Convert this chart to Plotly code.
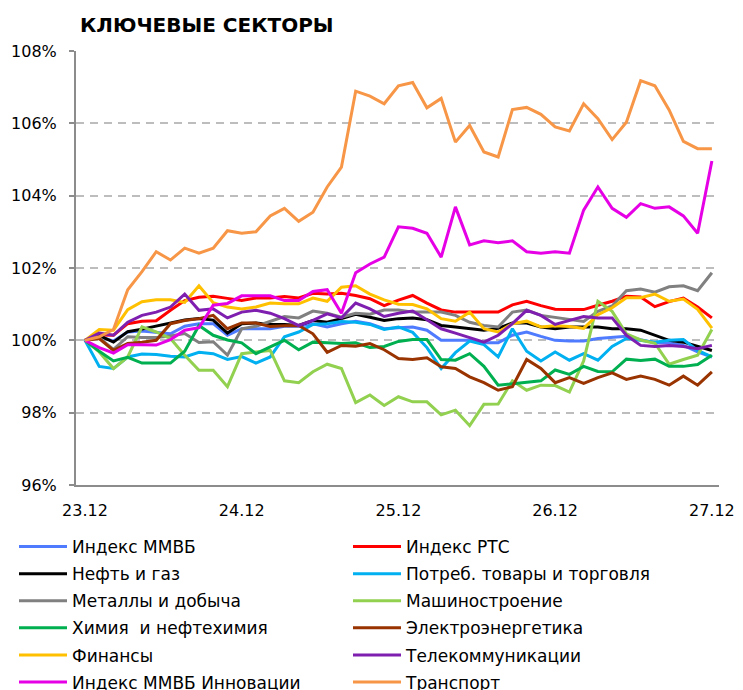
import plotly.graph_objects as go

# x positions: 45 observations, 11 per day
n_points = 45
tick_positions = [0, 11, 22, 33, 44]
tick_labels = ["23.12", "24.12", "25.12", "26.12", "27.12"]

names = [
    "Индекс ММВБ", "Индекс РТС", "Нефть и газ", "Потреб. товары и торговля",
    "Металлы и добыча", "Машиностроение", "Химия  и нефтехимия", "Электроэнергетика",
    "Финансы", "Телекоммуникации", "Индекс ММВБ Инновации", "Транспорт",
]
colors = [
    "#4F7BFF", "#FF0000", "#000000", "#00B0F0",
    "#808080", "#92D050", "#00B050", "#993300",
    "#FFC000", "#7F1FB0", "#E600E6", "#F79646",
]

# values: change vs 23.12, in percentage points (level = 100 + value)
mmvb = [0, 0.11, -0.02, 0.23, 0.26, 0.23, 0.18, 0.39, 0.46, 0.46, 0.14, 0.32, 0.32, 0.32, 0.39, 0.39, 0.46, 0.37, 0.46, 0.53, 0.46, 0.32, 0.35,
        0.37, 0.28, 0.0, 0.0, 0.0, -0.07, -0.07, 0.14, 0.23, 0.11, 0.0, -0.02, -0.02, 0.05, 0.09, 0.11, 0.02, -0.07, -0.07, -0.14, -0.32, -0.46]
rts = [0, 0.15, 0.14, 0.46, 0.53, 0.54, 0.83, 1.1, 1.19, 1.22, 1.16, 1.10, 1.17, 1.17, 1.21, 1.17, 1.30, 1.28, 1.30, 1.24, 1.15, 0.96, 1.11,
       1.24, 1.03, 0.84, 0.78, 0.78, 0.78, 0.78, 0.98, 1.08, 0.96, 0.86, 0.85, 0.85, 0.97, 1.08, 1.22, 1.2, 0.93, 1.07, 1.17, 0.92, 0.62]
neft = [0, 0.13, -0.05, 0.24, 0.31, 0.39, 0.47, 0.56, 0.6, 0.56, 0.2, 0.46, 0.48, 0.44, 0.44, 0.41, 0.55, 0.5, 0.6, 0.72, 0.64, 0.55, 0.6,
        0.62, 0.57, 0.41, 0.37, 0.32, 0.28, 0.33, 0.48, 0.48, 0.37, 0.32, 0.37, 0.37, 0.37, 0.32, 0.32, 0.28, 0.14, 0.0, -0.05, -0.17, -0.28]
potreb = [0, -0.72, -0.78, -0.46, -0.38, -0.39, -0.44, -0.46, -0.33, -0.37, -0.53, -0.45, -0.63, -0.46, 0.1, 0.23, 0.44, 0.46, 0.52, 0.5, 0.44, 0.3, 0.37,
          0.22, -0.2, -0.78, -0.34, -0.02, -0.12, -0.46, 0.32, -0.3, -0.57, -0.32, -0.55, -0.37, -0.55, -0.17, 0.05, 0.0, -0.05, 0.0, 0.02, -0.28, -0.46]
metally = [0, 0.07, -0.25, 0.1, 0.08, 0.08, 0.12, 0.19, -0.06, -0.04, -0.41, 0.32, 0.39, 0.53, 0.66, 0.62, 0.81, 0.75, 0.64, 0.75, 0.72, 0.84, 0.84,
           0.78, 0.78, 0.78, 0.69, 0.5, 0.41, 0.37, 0.78, 0.84, 0.69, 0.64, 0.58, 0.52, 0.8, 0.95, 1.37, 1.42, 1.33, 1.48, 1.51, 1.37, 1.87]
mash = [0, -0.32, -0.78, -0.46, 0.37, 0.23, 0.05, -0.41, -0.83, -0.83, -1.28, -0.37, -0.32, -0.28, -1.12, -1.17, -0.87, -0.66, -0.78, -1.72, -1.51, -1.8, -1.56,
        -1.7, -1.7, -2.06, -1.93, -2.36, -1.77, -1.76, -1.12, -1.38, -1.24, -1.25, -1.43, -0.57, 1.08, 0.8, 0.18, 0.01, -0.08, -0.66, -0.53, -0.41, 0.3]
himiya = [0, -0.3, -0.57, -0.47, -0.63, -0.63, -0.63, -0.3, 0.41, 0.14, 0.01, -0.07, -0.37, -0.18, 0.0, -0.26, -0.05, -0.07, -0.09, -0.07, -0.2, -0.17, -0.03,
          0.02, 0.02, -0.53, -0.55, -0.37, -0.72, -1.24, -1.2, -1.17, -1.12, -0.82, -0.94, -0.72, -0.86, -0.87, -0.52, -0.56, -0.52, -0.72, -0.72, -0.67, -0.41]
elektro = [0, 0.05, -0.28, -0.09, -0.05, 0.0, 0.46, 0.55, 0.6, 0.69, 0.32, 0.48, 0.48, 0.38, 0.4, 0.41, 0.18, -0.33, -0.14, -0.16, -0.09, -0.26, -0.5,
           -0.53, -0.48, -0.73, -0.78, -1.01, -1.17, -1.38, -1.28, -0.53, -0.78, -1.17, -1.03, -1.19, -1.03, -0.9, -1.08, -0.99, -1.08, -1.24, -0.99, -1.24, -0.87]
finansy = [0, 0.3, 0.28, 0.85, 1.07, 1.12, 1.12, 1.05, 1.51, 1.04, 0.92, 0.87, 0.92, 1.03, 1.01, 1.01, 1.17, 1.08, 1.47, 1.51, 1.28, 1.12, 1.0,
           0.99, 0.87, 0.6, 0.53, 0.78, 0.32, 0.23, 0.46, 0.53, 0.37, 0.4, 0.38, 0.33, 0.71, 0.9, 1.18, 1.18, 1.28, 1.08, 1.14, 0.86, 0.34]
telekom = [0, 0.2, 0.14, 0.5, 0.69, 0.78, 0.92, 1.28, 0.83, 0.87, 0.62, 0.78, 0.83, 0.75, 0.6, 0.41, 0.55, 0.73, 0.62, 1.03, 0.87, 0.66, 0.75,
           0.81, 0.57, 0.32, 0.2, 0.07, -0.05, 0.14, 0.46, 0.83, 0.69, 0.44, 0.55, 0.66, 0.62, 0.62, 0.14, -0.14, -0.17, -0.14, -0.17, -0.23, -0.14]
innov = [0, -0.2, -0.35, -0.12, -0.12, -0.13, 0.02, 0.28, 0.35, 0.97, 1.02, 1.23, 1.23, 1.23, 1.1, 1.1, 1.35, 1.4, 0.75, 1.87, 2.11, 2.3, 3.14,
         3.1, 2.96, 2.3, 3.69, 2.64, 2.75, 2.7, 2.75, 2.45, 2.41, 2.45, 2.41, 3.6, 4.24, 3.65, 3.4, 3.78, 3.65, 3.69, 3.44, 2.96, 4.96]
transport = [0, 0.1, 0.3, 1.4, 1.9, 2.45, 2.22, 2.55, 2.41, 2.55, 3.03, 2.96, 3.0, 3.44, 3.65, 3.29, 3.54, 4.24, 4.79, 6.89, 6.75, 6.54, 7.04,
             7.13, 6.43, 6.69, 5.48, 5.94, 5.21, 5.07, 6.38, 6.44, 6.25, 5.9, 5.79, 6.54, 6.13, 5.55, 6.03, 7.18, 7.04, 6.37, 5.5, 5.3, 5.3]

series = [mmvb, rts, neft, potreb, metally, mash, himiya, elektro, finansy, telekom, innov, transport]

FONT = "DejaVu Sans"
W, H = 735, 682  # page body has an 8px margin in the 743x690 window

fig = go.Figure()
x = list(range(n_points))
for k, (name, col, vals) in enumerate(zip(names, colors, series)):
    fig.add_trace(go.Scatter(
        x=x, y=[100 + v for v in vals], mode="lines", name=name,
        line=dict(color=col, width=3),
        legend="legend" if k % 2 == 0 else "legend2",
        legendgroup=f"g{k}",
    ))

legend_common = dict(
    xref="container", yref="container", yanchor="top", xanchor="left",
    orientation="v", font=dict(family=FONT, size=17, color="#000000"),
    bgcolor="rgba(0,0,0,0)", itemwidth=48, tracegroupgap=2,
    itemclick=False, itemdoubleclick=False,
)

fig.update_layout(
    width=W, height=H,
    margin=dict(l=68, r=24, t=43, b=205, autoexpand=False),
    paper_bgcolor="white", plot_bgcolor="white",
    font=dict(family=FONT, size=16, color="#000000"),
    title=dict(text="<b>КЛЮЧЕВЫЕ СЕКТОРЫ</b>", x=72 / W, xanchor="left",
               y=1 - 17 / H, yanchor="middle",
               font=dict(family=FONT, size=20, color="#000000")),
    showlegend=True,
    legend=dict(x=6 / W, y=1 - 521 / H, **legend_common),
    legend2=dict(x=340 / W, y=1 - 521 / H, **legend_common),
    xaxis=dict(
        range=[-0.63, 44.5], tickmode="array", tickvals=tick_positions, ticktext=tick_labels,
        showgrid=False, zeroline=False, showline=True, linecolor="#8C8C8C", linewidth=2,
        ticks="", ticklabelstandoff=10, tickfont=dict(family=FONT, size=16),
    ),
    yaxis=dict(
        range=[96, 108], tickmode="array", tickvals=[96, 98, 100, 102, 104, 106, 108],
        ticktext=["96%", "98%", "100%", "102%", "104%", "106%", "108%"],
        showgrid=True, gridcolor="#BDBDBD", gridwidth=2, griddash="8px,6px",
        zeroline=False, showline=True, linecolor="#8C8C8C", linewidth=2,
        ticks="outside", ticklen=5, tickcolor="#8C8C8C", tickwidth=2,
        ticklabelstandoff=9, tickfont=dict(family=FONT, size=16),
    ),
)

fig.write_html("out.html")
